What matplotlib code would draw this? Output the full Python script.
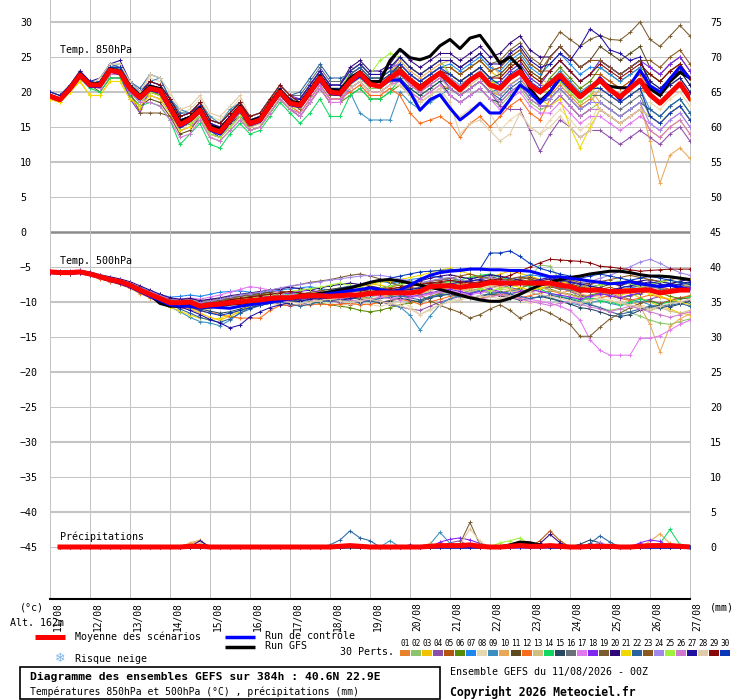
import numpy as np
import matplotlib
matplotlib.use("Agg")
import matplotlib.pyplot as plt
import matplotlib.patches as patches
from matplotlib.transforms import offset_copy

plt.rcParams['font.family'] = ['DejaVu Sans Mono', 'DejaVu Sans']

# pas de 6h sur 384h
hours = np.arange(0, 385, 6)
days = ['11/08', '12/08', '13/08', '14/08', '15/08', '16/08', '17/08', '18/08', '19/08',
        '20/08', '21/08', '22/08', '23/08', '24/08', '25/08', '26/08', '27/08']

pert_colors = ['#e8822a', '#8cc46a', '#f2c200', '#8c4fa8', '#b5540c', '#5a8a0a', '#1e88f0',
               '#e8d8b0', '#3b8fc0', '#e8a858', '#5c4a1e', '#f86c1c', '#d0c080', '#10d860',
               '#284860', '#687078', '#e078f0', '#8028f0', '#7a5c30', '#30087a', '#f0d800',
               '#2a64a0', '#8c5820', '#a088e8', '#a0f040', '#d078d0', '#2010a0', '#e0cca8',
               '#880808', '#0838b8']

# ---- Temp 850 hPa ----
t850_mean = [19.4, 18.9, 20.5, 22.4, 21.0, 21.0, 23.1, 22.8, 20.5, 19.2, 20.5, 20.2, 17.8, 15.3, 16.1,
             17.4, 14.8, 14.3, 16.0, 17.7, 15.5, 16.0, 18.1, 20.0, 18.4, 18.1, 20.0, 22.0, 20.0, 19.8,
             21.5, 22.7, 21.1, 20.8, 22.0, 22.9, 21.7, 20.5, 21.7, 22.7, 21.5, 20.3, 21.7, 22.6, 21.0,
             20.5, 22.0, 22.9, 21.0, 20.0, 21.2, 22.4, 20.8, 19.3, 20.5, 21.7, 20.3, 19.3, 20.5, 21.7,
             19.6, 18.4, 19.8, 21.2, 19.1]
t850_control = [19.3, 18.8, 20.3, 22.2, 20.8, 20.8, 23.0, 22.6, 20.3, 19.0, 20.3, 20.0, 17.5, 15.0, 15.9,
                17.2, 14.6, 14.0, 15.8, 17.5, 15.3, 15.8, 17.9, 19.8, 18.2, 17.9, 19.8, 21.7, 19.8, 19.6,
                21.3, 22.3, 21.0, 20.8, 21.7, 21.7, 20.0, 17.4, 18.9, 19.6, 17.7, 16.0, 17.1, 18.4, 17.0,
                17.0, 18.9, 21.0, 20.0, 18.4, 20.0, 22.0, 20.5, 19.3, 20.3, 22.0, 20.5, 18.9, 21.0, 23.1,
                20.9, 20.0, 21.9, 23.6, 21.9]
t850_gfs = [19.5, 19.0, 20.6, 22.6, 21.2, 21.2, 23.3, 23.0, 20.8, 19.5, 20.8, 20.5, 18.2, 15.8, 16.4,
            17.7, 15.2, 14.7, 16.3, 18.0, 15.8, 16.3, 18.4, 20.3, 18.7, 18.4, 20.3, 22.3, 20.4, 20.2,
            22.0, 22.9, 21.5, 21.5, 24.5, 26.1, 24.9, 24.6, 25.1, 26.6, 27.5, 26.2, 27.7, 28.1, 26.2,
            24.1, 25.0, 23.5, 20.5, 18.7, 20.0, 22.0, 21.0, 19.5, 20.5, 21.5, 20.8, 20.6, 20.6, 21.5,
            20.5, 19.5, 21.5, 22.8, 22.0]
t850_perts = [
    [19.5, 19, 20.5, 22.5, 21, 20.5, 22.5, 22.5, 20, 18.5, 20, 19.5, 17.5, 15, 15.5, 17, 14.5, 14, 15.5, 17,
     15.5, 16, 18, 20, 18.5, 18, 20, 22, 20, 20, 20.5, 21.5, 20, 20, 21, 21.5, 20, 19, 20, 21,
     20.5, 19.5, 20.5, 21.5, 20, 19.5, 21, 22, 20, 19, 19.5, 21, 19.5, 18, 19, 22.5, 21.5, 20.5, 21.5, 22.5,
     20.5, 19.5, 21, 22, 20],
    [19.5, 19, 20.5, 22, 21, 20.5, 22.5, 22.5, 20, 18.5, 19.5, 19, 17, 14.5, 15, 16, 13.5, 13, 14.5, 16,
     14.5, 15, 17, 19, 17.5, 17, 19, 21, 19, 19, 21, 22, 20.5, 20.5, 21.5, 21.5, 20, 19, 20, 21,
     19.5, 18.5, 19.5, 20.5, 19, 18, 19.5, 20.5, 18.5, 17.5, 18, 19.5, 18, 16.5, 17.5, 18.5, 17.5, 16.5, 17.5, 18.5,
     17.5, 16.5, 18, 19, 17],
    [19, 18.5, 20, 21.5, 19.5, 19.5, 21.5, 21.5, 19, 17.5, 20, 19.5, 17.5, 15, 15.5, 17.5, 15, 14.5, 16, 17.5,
     16, 16.5, 18.5, 20.5, 19, 18.5, 20.5, 22.5, 20.5, 20.5, 22.5, 23.5, 22, 22, 23, 24, 22.5, 21.5, 22.5, 23.5,
     23.5, 22.5, 23.5, 24.5, 23, 22, 23.5, 24.5, 22.5, 21.5, 20, 21.5, 20, 18.5, 19.5, 17.5, 16.5, 15.5, 16.5, 17.5,
     14.5, 13.5, 15, 16, 14],
    [19.5, 19, 20.5, 22.5, 21, 21.5, 23.5, 23.5, 21, 19.5, 20.5, 20, 18, 15.5, 16, 17, 14.5, 14, 15.5, 17,
     15.5, 16, 18, 20, 18.5, 18.5, 20.5, 22.5, 20.5, 20.5, 22.5, 23.5, 22, 22, 23, 23, 21.5, 20.5, 21.5, 22.5,
     20.5, 19.5, 20.5, 21.5, 20, 18, 17.5, 17.5, 14.5, 11.5, 14, 16, 15, 13.5, 14.5, 14.5, 13.5, 12.5, 13.5, 14.5,
     13.5, 12.5, 14, 15, 13],
    [20, 19.5, 21, 23, 21.5, 21.5, 23.5, 23.5, 21, 19.5, 21, 20.5, 18.5, 16, 16.5, 18.5, 16, 15.5, 17, 18.5,
     16, 16.5, 18.5, 20.5, 19, 18, 20, 22, 20, 20, 22, 23, 21.5, 21.5, 22.5, 24, 22.5, 21.5, 22.5, 23.5,
     23.5, 22.5, 23.5, 24.5, 23, 23.5, 25, 26, 24, 23, 23, 24.5, 23, 21.5, 22.5, 22.5, 21.5, 20.5, 21.5, 22.5,
     22.5, 21.5, 23, 24, 22],
    [19.5, 19, 20.5, 22.5, 21, 21, 23, 23, 20.5, 19, 21, 20.5, 18.5, 16, 16.5, 17.5, 15, 14.5, 16, 17.5,
     14.5, 15, 17, 19, 17.5, 16.5, 18.5, 20.5, 18.5, 18.5, 19.5, 20.5, 19, 19, 20, 21, 19.5, 18.5, 19.5, 20.5,
     20.5, 19.5, 20.5, 21.5, 20, 20.5, 22, 23, 21, 20, 22, 23.5, 22, 20.5, 21.5, 23.5, 22.5, 21.5, 22.5, 23.5,
     22.5, 21.5, 23, 24, 22],
    [19.5, 19, 20.5, 22.5, 21, 21.5, 23.5, 23.5, 21, 19.5, 21.5, 21, 19, 16.5, 17, 18.5, 16, 15.5, 17, 18.5,
     16, 16.5, 18.5, 20.5, 19, 18.5, 20.5, 22.5, 20.5, 20.5, 21.5, 22.5, 21, 21, 22, 24, 22.5, 21.5, 22.5, 23.5,
     24, 23, 24, 25, 23.5, 23, 24.5, 25.5, 23.5, 22.5, 24, 25.5, 24, 22.5, 23.5, 23.5, 22.5, 21.5, 22.5, 23.5,
     20.5, 19.5, 21, 22, 20],
    [19.5, 19, 20.5, 22.5, 21, 22, 24, 24, 21.5, 20, 22, 21.5, 19.5, 17, 17.5, 19, 16.5, 16, 17.5, 19,
     15.5, 16, 18, 20, 18.5, 17, 19, 21, 19, 19, 20, 21, 19.5, 19.5, 20.5, 21, 19.5, 18.5, 19.5, 20.5,
     17.5, 16.5, 17.5, 18.5, 17, 14.5, 16, 17, 15, 14, 16, 17.5, 16, 14.5, 15.5, 18.5, 17.5, 16.5, 17.5, 18.5,
     18.5, 17.5, 19, 20, 18],
    [20, 19.5, 21, 23, 21.5, 21.5, 23.5, 24, 21, 20, 21.5, 22, 19, 17.5, 17, 18.5, 16.5, 15.5, 17.5, 18.5,
     16.5, 17, 19, 21, 19.5, 18.5, 20.5, 22.5, 20.5, 20.5, 20, 17, 16, 16, 16, 20, 18.5, 17.5, 18.5, 19.5,
     20.5, 19.5, 20.5, 21.5, 20, 20.5, 22, 23, 21, 20, 21.5, 23, 21.5, 20, 21, 20.5, 19.5, 18.5, 19.5, 20.5,
     17.5, 16.5, 18, 19, 17],
    [19.5, 19, 20.5, 23, 21, 20.5, 22.5, 22.5, 20, 18.5, 20.5, 20, 18, 15.5, 16, 18, 15.5, 15, 16.5, 18,
     15.5, 16, 18, 20, 18.5, 18.5, 20.5, 22.5, 20.5, 20.5, 22, 23, 21.5, 21.5, 22.5, 24.5, 23, 22, 23, 24,
     24.5, 23.5, 24.5, 25.5, 24, 22.5, 24, 25, 23, 22, 21, 22.5, 21, 19.5, 20.5, 18.5, 17.5, 16.5, 17.5, 18.5,
     13, 7, 11, 12, 10.5],
    [19.5, 19, 20.5, 22.5, 21, 20, 22, 22, 19.5, 18, 19, 18.5, 16.5, 14, 14.5, 16.5, 14, 13.5, 15, 16.5,
     14.5, 15, 17, 19, 17.5, 16.5, 18.5, 20.5, 18.5, 18.5, 20.5, 21.5, 20, 20, 21, 22.5, 21, 20, 21, 22,
     22.5, 21.5, 22.5, 23.5, 22, 22.5, 24, 25, 23, 22, 25, 26.5, 25, 23.5, 24.5, 26.5, 25.5, 24.5, 25.5, 26.5,
     23.5, 22.5, 24, 25, 23],
    [19.5, 19, 20.5, 22.5, 21, 21, 23, 23, 20.5, 19, 20, 19.5, 17.5, 15, 15.5, 16.5, 14, 13.5, 15, 16.5,
     15, 15.5, 17.5, 19.5, 18, 17, 19, 21, 19, 19, 20, 21, 19.5, 19.5, 20.5, 19.5, 17, 15.5, 16, 16.5,
     15.5, 13.5, 15.5, 16.5, 15, 16.5, 18, 19, 17, 16, 19, 20.5, 19, 17.5, 18.5, 20.5, 19.5, 18.5, 19.5, 20.5,
     19.5, 18.5, 20, 21, 19],
    [19.5, 19, 20.5, 22.5, 21, 21, 23.5, 22.5, 21, 19.5, 21, 20.5, 18.5, 16, 16.5, 17.5, 15, 14.5, 16, 17.5,
     15, 15.5, 17.5, 19.5, 18, 18, 20, 22, 20, 20, 22, 23, 21.5, 21.5, 22.5, 23, 21.5, 20.5, 21.5, 22.5,
     21, 20, 21, 22, 20.5, 19.5, 21, 22, 20, 19, 19, 20.5, 19, 17.5, 18.5, 20.5, 19.5, 18.5, 19.5, 20.5,
     20.5, 19.5, 21, 22, 20],
    [19.5, 19, 20.5, 22, 20.5, 20, 22, 22, 19.5, 18, 18.5, 18, 16, 12.5, 14, 15.5, 12.5, 12, 14, 15.5,
     14, 14.5, 16.5, 18.5, 17, 15.5, 17, 19, 16.5, 16.5, 19.5, 20.5, 19, 19, 20, 22, 20.5, 19.5, 20.5, 21.5,
     22, 21, 22, 23, 21.5, 21.5, 23, 24, 22, 21, 23, 24.5, 23, 21.5, 22.5, 24.5, 23.5, 22.5, 23.5, 24.5,
     21.5, 20.5, 22, 23, 21],
    [19.5, 19, 20.5, 22.5, 21, 21.5, 23, 23.5, 21, 19.5, 20.5, 19.5, 17.5, 15, 15.5, 16.5, 14.5, 13.5, 15.5, 16.5,
     15.5, 16, 18, 20, 18.5, 18.5, 20.5, 22.5, 20.5, 20.5, 21.5, 22.5, 21, 21, 22, 22, 20.5, 19.5, 20.5, 21.5,
     19.5, 18.5, 19.5, 20.5, 19, 18.5, 20, 21, 19, 18, 18, 19.5, 18, 16.5, 17.5, 17.5, 16.5, 15.5, 16.5, 17.5,
     16.5, 15.5, 17, 18, 16],
    [19.5, 19, 20.5, 22.5, 21, 21, 23, 23, 20.5, 19, 21, 20.5, 18.5, 16, 16.5, 18, 15.5, 15, 16.5, 18,
     16.5, 17, 19, 21, 19.5, 19.5, 21.5, 23.5, 21.5, 21.5, 22.5, 23.5, 22, 22, 23, 25, 23.5, 22.5, 23.5, 24.5,
     22.5, 21.5, 22.5, 23.5, 22, 20.5, 22, 23, 21, 20, 20, 21.5, 20, 18.5, 19.5, 19.5, 18.5, 17.5, 18.5, 19.5,
     16.5, 15.5, 17, 18, 16],
    [19.5, 19, 20.5, 22.5, 21, 20.5, 22.5, 22.5, 20, 18.5, 19.5, 19, 17, 14.5, 15, 16.5, 14, 13.5, 15, 16.5,
     14.5, 15, 17, 19, 17.5, 16.5, 18.5, 20.5, 18.5, 18.5, 20.5, 21.5, 20, 20, 21, 21.5, 20, 19, 20, 21,
     19.5, 18.5, 19.5, 20.5, 19, 17.5, 19, 20, 18, 17, 17, 18.5, 17, 15.5, 16.5, 16.5, 15.5, 14.5, 15.5, 16.5,
     15.5, 14.5, 16, 17, 15],
    [19.5, 19, 20.5, 22.5, 21, 20.5, 22.5, 22.5, 19, 17, 20.5, 20, 18, 15.5, 16, 18, 15.5, 15, 16.5, 18,
     16.5, 17, 19, 21, 19.5, 19, 21, 23, 21, 21, 23, 24, 22.5, 22.5, 23.5, 24, 22.5, 21.5, 22.5, 23.5,
     21.5, 20.5, 21.5, 22.5, 21, 21.5, 23, 24, 22, 21, 23, 24.5, 23, 21.5, 22.5, 24.5, 23.5, 22.5, 23.5, 24.5,
     23.5, 22.5, 24, 25, 23],
    [19.5, 19, 20.5, 22.5, 21, 21.5, 23.5, 23.5, 20, 17, 17, 17, 16.5, 15, 15.5, 17.5, 15, 14.5, 16, 17.5,
     16, 16.5, 18.5, 20.5, 19, 19, 21, 23, 21, 21, 23, 24, 22.5, 22.5, 23.5, 25, 23.5, 22.5, 23.5, 24.5,
     24.5, 23.5, 24.5, 25.5, 24, 24.5, 26, 27, 25, 24, 26.5, 28.6, 27.5, 26.5, 27.5, 28.1, 27.5, 27.4, 28.5, 30,
     27.5, 26.5, 28, 29.5, 28],
    [19.5, 19, 20.5, 22.5, 21, 21.5, 23.5, 23.5, 21, 19.5, 21, 20.5, 18.5, 16, 16.5, 17.5, 15, 14.5, 16, 17.5,
     16, 16.5, 18.5, 20.5, 19, 19, 21, 23, 21, 21, 23.5, 24.5, 23, 23, 24, 26, 24.5, 23.5, 24.5, 25.5,
     25.5, 24.5, 25.5, 26.5, 25, 25.5, 27, 28, 26, 25, 25, 26.5, 25, 23.5, 24.5, 24.5, 23.5, 22.5, 23.5, 24.5,
     21.5, 20.5, 22, 23, 21],
    [19, 18.5, 20, 21.5, 19.5, 19.5, 21.5, 21.5, 19, 18, 19.5, 19, 17, 14.5, 15, 17.5, 15, 14.5, 16, 17.5,
     16, 16.5, 18.5, 20.5, 19, 18.5, 20.5, 22.5, 20.5, 20.5, 21.5, 22.5, 21, 21, 22, 23.5, 22, 21, 22, 23,
     22.5, 21.5, 22.5, 23.5, 22, 19.5, 21, 22, 20, 19, 18, 19, 15, 12, 15, 17.5, 16.5, 15.5, 16.5, 17.5,
     16.5, 15.5, 17, 18, 16],
    [19.5, 19, 20.5, 22.5, 21, 21.5, 24, 23.5, 21.5, 20.5, 22.5, 22, 19, 17, 17, 18.5, 16, 15.5, 17, 18.5,
     16.5, 17, 19, 21, 19.5, 20, 22, 24, 22, 22, 22.5, 23.5, 22, 22, 23, 23, 21.5, 20.5, 21.5, 22.5,
     20.5, 19.5, 20.5, 21.5, 20, 19, 20.5, 21.5, 19.5, 18.5, 19, 20.5, 19, 17.5, 18.5, 18.5, 17.5, 16.5, 17.5, 18.5,
     17.5, 16.5, 18, 19, 17],
    [19.5, 19, 20.5, 22.5, 21, 21, 23, 23, 20.5, 19, 20, 19.5, 17.5, 15, 15.5, 17.5, 15, 14.5, 16, 17.5,
     15.5, 16, 18, 20, 18.5, 17.5, 19.5, 21.5, 19.5, 19.5, 21.5, 22.5, 21, 21, 22, 24, 22.5, 21.5, 22.5, 23.5,
     23.5, 22.5, 23.5, 24.5, 23, 23.5, 25, 26, 24, 23, 25, 26.5, 25, 23.5, 24.5, 24.5, 23.5, 22.5, 23.5, 24.5,
     24.5, 23.5, 25, 26, 24],
    [19.5, 19, 20.5, 22.5, 21, 21, 23, 23, 20.5, 19, 20.5, 20, 18, 15.5, 16, 18, 15.5, 15, 16.5, 18,
     16, 16.5, 18.5, 20.5, 19, 19, 21, 23, 21, 21, 23, 24, 22.5, 22.5, 23.5, 24, 22.5, 21.5, 22.5, 23.5,
     22, 21, 22, 23, 21.5, 19.5, 21, 22, 20, 19, 19, 20.5, 19, 17.5, 18.5, 18.5, 17.5, 16.5, 17.5, 18.5,
     15.5, 14.5, 16, 17, 15],
    [19.5, 19, 20.5, 22.5, 21, 20.5, 22.5, 22.5, 20, 18.5, 20, 19.5, 17.5, 15, 15.5, 16.5, 14, 13.5, 15, 16.5,
     14.5, 15, 17, 19, 17.5, 18, 20, 22, 20, 20, 23, 24, 22.5, 24.5, 25.5, 25, 23.5, 22.5, 23.5, 24.5,
     22.5, 21.5, 22.5, 23.5, 22, 20.5, 22, 23, 21, 20, 20, 21.5, 20, 18.5, 19.5, 21.5, 20.5, 19.5, 20.5, 21.5,
     20.5, 19.5, 21, 22, 20],
    [19.5, 19, 20.5, 22.5, 21, 20.5, 22.5, 22.5, 20, 18.5, 18.5, 18, 16, 13.5, 14, 16, 13.5, 13, 14.5, 16,
     14.5, 15, 17, 19, 17.5, 17, 19, 21, 19, 19, 20.5, 21.5, 20, 20, 21, 22.5, 21, 20, 21, 22,
     20.5, 19.5, 20.5, 21.5, 20, 18.5, 20, 21, 19, 18, 18, 19.5, 18, 16.5, 17.5, 17.5, 16.5, 15.5, 16.5, 17.5,
     14.5, 13.5, 15, 16, 14],
    [20, 19.5, 21, 23, 21.5, 22, 24, 24.5, 21.5, 20, 21.5, 21, 19, 16.5, 17, 18, 15.5, 15, 16.5, 18,
     16, 16.5, 18.5, 20.5, 19, 19, 21, 23, 21, 21, 23, 24, 22.5, 22.5, 23.5, 25, 23.5, 22.5, 23.5, 24.5,
     24.5, 23.5, 24.5, 25.5, 24, 24, 25.5, 26.5, 24.5, 23.5, 24, 25.5, 24.5, 26.5, 29, 28, 26, 25.5, 24.5, 25,
     20.5, 19.5, 21, 22, 20],
    [19.5, 19, 20.5, 22.5, 21, 22, 24, 24, 21.5, 20, 22.5, 22, 20, 17.5, 18, 19.5, 17, 16.5, 18, 19.5,
     16.5, 17, 19, 21, 19.5, 18, 20, 22, 20, 20, 20.5, 21.5, 20, 20, 21, 21, 19.5, 18.5, 19.5, 20.5,
     18.5, 14, 15.5, 16, 14.5, 13, 14, 17, 15, 14, 15, 16.5, 15, 13.5, 14.5, 17.5, 16.5, 15.5, 16.5, 17.5,
     16.5, 15.5, 17, 18, 16],
    [19.5, 19, 20.5, 22.5, 21, 21.5, 23.5, 23.5, 21, 19.5, 21.5, 21, 19, 16.5, 17, 18.5, 16, 15.5, 17, 18.5,
     16.5, 17, 19, 21, 19.5, 18.5, 20.5, 22.5, 20.5, 20.5, 21.5, 22.5, 21, 21, 22, 23.5, 22, 21, 22, 23,
     22.5, 21.5, 22.5, 23.5, 22, 22, 23.5, 24.5, 22.5, 21.5, 23, 24.5, 23, 21.5, 22.5, 24, 23, 22, 23, 24,
     22.5, 21.5, 23, 24, 22],
    [19.5, 19, 20.5, 22.5, 21, 21.5, 23.5, 23.5, 21, 19.5, 21, 20.5, 18.5, 16, 16.5, 17.5, 15, 14.5, 16, 17.5,
     15.5, 16, 18, 20, 18.5, 18.5, 20.5, 22.5, 20.5, 20.5, 22, 23, 21.5, 21.5, 22.5, 24, 22.5, 21.5, 22.5, 23.5,
     22.5, 21.5, 22.5, 23.5, 22, 21, 22.5, 23.5, 21.5, 20.5, 21, 22.5, 21, 19.5, 20.5, 20.5, 19.5, 18.5, 19.5, 20.5,
     16.5, 15.5, 17, 18, 16],
]

# ---- Temp 500 hPa ----
t500_mean = [-5.7, -5.8, -5.8, -5.7, -6.0, -6.4, -6.8, -7.1, -7.6, -8.3, -8.9, -9.5, -10.1, -10.1, -10.0,
             -10.6, -10.4, -10.3, -10.1, -10.0, -9.8, -9.7, -9.5, -9.4, -9.4, -9.2, -9.1, -9.1, -9.2, -9.1,
             -9.0, -9.0, -8.8, -8.7, -8.7, -8.7, -8.7, -8.5, -7.8, -7.7, -7.7, -7.9, -7.7, -7.6, -7.2,
             -7.3, -7.3, -7.3, -7.3, -7.3, -7.3, -7.6, -7.8, -8.3, -8.3, -8.3, -8.5, -8.5, -8.4, -8.3,
             -8.3, -8.7, -8.5, -8.3, -8.3]
t500_control = [-5.8, -5.9, -5.9, -5.8, -6.1, -6.5, -6.9, -7.3, -7.8, -8.5, -9.2, -9.8, -10.4, -10.6, -10.6,
                -10.8, -10.7, -10.8, -10.9, -10.6, -10.4, -10.2, -10.0, -9.8, -9.6, -9.4, -9.2, -9.0, -8.8, -8.6,
                -8.4, -8.2, -8.0, -8.2, -8.5, -8.3, -7.6, -6.8, -6.2, -5.8, -5.6, -5.5, -5.3, -5.3, -5.4,
                -5.4, -5.5, -5.5, -5.6, -6.0, -6.4, -6.4, -6.6, -6.8, -7.0, -7.2, -7.4, -7.3, -7.1, -7.4,
                -7.6, -7.8, -7.6, -7.9, -8.2]
t500_gfs = [-5.7, -5.8, -5.8, -5.7, -6.0, -6.4, -6.9, -7.2, -7.7, -8.4, -9.0, -10.2, -10.6, -10.6, -10.5,
            -10.8, -10.7, -10.5, -10.3, -10.2, -10.0, -9.8, -9.6, -9.5, -9.4, -9.2, -9.0, -8.8, -8.6, -8.3,
            -8.0, -7.6, -7.2, -6.9, -6.8, -7.0, -7.3, -7.6, -7.9, -8.2, -8.6, -9.0, -9.4, -9.7, -9.9,
            -9.9, -9.5, -8.9, -8.2, -7.6, -7.2, -6.8, -6.5, -6.3, -6.0, -5.8, -5.6, -5.6, -5.8, -6.1,
            -6.3, -6.3, -6.4, -6.6, -6.8]
t500_perts = [
    [-5.6, -5.9, -6.0, -5.8, -6.2, -6.6, -7.0, -7.4, -8.0, -8.8, -9.4, -10.0, -10.6, -10.8, -10.5,
     -10.9, -10.6, -10.2, -9.8, -9.6, -9.4, -9.5, -9.3, -9.0, -9.2, -9.4, -9.0, -8.7, -8.9, -9.3,
     -9.1, -8.6, -8.4, -8.8, -9.0, -8.6, -8.2, -8.0, -7.5, -7.2, -7.4, -7.8, -7.0, -6.8, -6.5,
     -6.9, -7.2, -6.6, -6.3, -6.8, -7.4, -7.0, -6.8, -7.6, -8.0, -7.5, -7.2, -7.8, -8.4, -8.0,
     -7.6, -7.9, -8.5, -8.0, -7.8],
    [-5.8, -5.8, -5.9, -5.9, -6.1, -6.5, -6.9, -7.3, -7.7, -8.3, -8.8, -9.4, -10.0, -10.3, -10.4,
     -10.8, -10.9, -10.6, -10.2, -10.3, -10.0, -9.9, -9.6, -9.6, -9.8, -9.5, -9.4, -9.6, -9.3, -9.1,
     -9.2, -9.5, -9.3, -9.0, -9.4, -9.6, -9.2, -9.0, -8.6, -8.8, -9.0, -9.3, -8.7, -8.4, -8.8,
     -9.2, -9.0, -8.5, -6.5, -4.7, -4.9, -6.8, -8.2, -9.6, -10.3, -10.8, -11.2, -10.9, -11.5, -12.0,
     -12.6, -13.0, -13.2, -12.8, -12.4],
    [-5.7, -5.7, -5.8, -5.6, -5.9, -6.3, -6.7, -7.0, -7.5, -8.2, -8.9, -9.6, -10.4, -10.6, -11.0,
     -11.6, -12.2, -12.6, -12.0, -11.4, -10.8, -10.5, -10.2, -10.0, -9.6, -9.3, -9.0, -8.6, -8.4, -8.2,
     -8.0, -7.8, -7.4, -7.6, -7.9, -7.5, -7.2, -7.6, -7.0, -6.7, -6.5, -6.9, -6.4, -6.2, -6.6,
     -6.0, -5.6, -5.9, -6.3, -6.8, -7.2, -7.0, -7.4, -7.9, -8.3, -8.0, -8.6, -9.0, -8.7, -9.4,
     -10.0, -10.6, -11.0, -11.6, -11.8],
    [-5.8, -5.9, -5.9, -5.8, -6.0, -6.4, -6.8, -7.2, -7.8, -8.5, -9.2, -9.8, -10.2, -10.4, -10.2,
     -10.6, -10.8, -10.7, -10.4, -10.0, -9.7, -9.8, -10.0, -10.3, -10.6, -10.4, -10.0, -9.7, -9.8, -10.1,
     -10.4, -10.0, -9.6, -9.9, -10.4, -10.7, -11.0, -11.2, -10.6, -10.0, -9.6, -9.2, -8.8, -8.4, -8.0,
     -7.6, -7.9, -8.3, -8.6, -8.2, -7.8, -8.0, -8.5, -9.0, -9.3, -9.0, -8.8, -9.3, -9.6, -10.0,
     -9.6, -9.2, -9.7, -10.1, -9.8],
    [-5.6, -5.7, -5.7, -5.6, -5.8, -6.2, -6.6, -6.9, -7.3, -8.0, -8.6, -9.2, -9.8, -9.9, -9.7,
     -10.1, -9.8, -9.6, -9.3, -9.0, -8.8, -8.9, -8.6, -8.4, -8.7, -8.9, -8.6, -8.4, -8.6, -8.3,
     -8.1, -8.4, -8.2, -8.0, -7.8, -7.6, -7.9, -8.2, -7.6, -7.3, -7.0, -7.3, -7.6, -7.2, -6.9,
     -7.2, -7.5, -7.1, -6.8, -7.3, -7.8, -8.2, -7.9, -8.4, -8.6, -8.2, -7.9, -8.3, -8.0, -7.6,
     -7.3, -7.8, -8.2, -7.7, -7.5],
    [-5.7, -5.8, -5.8, -5.8, -6.1, -6.5, -6.9, -7.2, -7.6, -8.2, -8.7, -9.3, -9.9, -10.0, -9.8,
     -10.3, -10.0, -9.8, -9.6, -9.4, -9.2, -9.0, -8.8, -9.0, -9.3, -9.6, -9.9, -10.2, -10.4, -10.6,
     -10.8, -11.2, -11.4, -11.2, -10.8, -10.4, -10.1, -9.8, -9.2, -8.8, -8.5, -8.8, -8.4, -8.1, -8.4,
     -8.7, -8.4, -8.0, -7.6, -7.9, -8.2, -8.6, -8.9, -9.3, -9.0, -8.7, -9.1, -9.5, -9.1, -8.8,
     -8.4, -8.7, -9.2, -9.5, -9.1],
    [-5.7, -5.8, -5.7, -5.6, -5.9, -6.3, -6.6, -6.9, -7.3, -7.9, -8.4, -8.9, -9.3, -9.2, -9.0,
     -9.2, -8.9, -8.6, -8.5, -8.4, -8.6, -8.8, -8.5, -8.3, -8.1, -8.0, -7.8, -8.1, -8.3, -8.0,
     -7.7, -7.6, -7.2, -7.0, -7.3, -7.1, -6.8, -6.6, -6.3, -6.5, -6.9, -7.2, -6.8, -6.4, -6.2,
     -6.4, -6.7, -6.5, -6.1, -6.3, -6.6, -6.9, -7.2, -7.5, -7.8, -7.6, -7.3, -7.6, -8.0, -7.7,
     -7.4, -7.0, -7.3, -7.6, -7.2],
    [-5.8, -5.9, -5.9, -5.8, -6.0, -6.5, -6.9, -7.3, -7.8, -8.5, -9.2, -9.8, -10.4, -10.6, -10.8,
     -11.2, -11.0, -10.8, -10.5, -10.3, -10.1, -10.0, -10.2, -10.4, -10.2, -9.9, -9.7, -9.9, -10.2, -10.5,
     -10.3, -10.1, -10.4, -10.6, -10.3, -10.0, -10.6, -11.8, -11.2, -10.4, -9.8, -9.5, -9.2, -9.6, -10.0,
     -9.7, -9.4, -9.8, -10.1, -9.8, -9.4, -9.0, -9.3, -9.6, -9.4, -9.1, -9.4, -9.8, -10.1, -10.4,
     -10.8, -11.0, -10.6, -10.2, -10.0],
    [-5.7, -5.8, -5.8, -5.8, -6.1, -6.5, -6.9, -7.3, -7.9, -8.6, -9.3, -10.0, -10.7, -11.4, -12.2,
     -12.8, -13.0, -13.4, -12.6, -11.6, -10.8, -10.2, -9.9, -9.6, -9.8, -10.0, -9.7, -9.4, -9.6, -9.9,
     -9.6, -9.3, -9.5, -9.8, -10.2, -10.7, -11.9, -14.0, -12.0, -10.4, -9.5, -9.0, -8.7, -8.3, -8.6,
     -8.9, -8.5, -8.2, -8.6, -9.0, -9.4, -9.8, -10.2, -10.4, -10.1, -9.8, -10.2, -10.5, -10.2, -9.9,
     -10.4, -10.7, -10.3, -9.9, -10.2],
    [-5.6, -5.7, -5.7, -5.7, -5.9, -6.3, -6.7, -7.1, -7.6, -8.3, -9.0, -9.6, -10.2, -10.3, -10.4,
     -10.9, -10.7, -10.5, -10.2, -10.1, -9.9, -9.7, -9.5, -9.7, -9.9, -9.6, -9.4, -9.2, -9.5, -9.2,
     -9.0, -9.3, -9.6, -9.4, -9.1, -8.8, -9.0, -8.6, -8.3, -8.1, -8.0, -8.4, -8.1, -7.8, -7.6,
     -7.8, -8.1, -8.4, -8.2, -7.9, -8.3, -8.7, -8.4, -8.8, -9.2, -9.0, -8.6, -9.2, -9.8, -10.6,
     -13.2, -17.1, -13.5, -12.4, -11.7],
    [-5.7, -5.7, -5.8, -5.7, -5.9, -6.3, -6.7, -7.0, -7.4, -8.1, -8.7, -9.3, -9.8, -9.9, -9.8,
     -10.2, -10.0, -9.7, -9.4, -9.2, -9.0, -8.8, -8.6, -8.5, -8.7, -8.9, -8.7, -8.4, -8.2, -8.0,
     -7.8, -7.5, -7.7, -8.0, -8.2, -7.9, -7.6, -7.3, -7.0, -6.8, -6.6, -6.9, -7.1, -6.7, -6.4,
     -6.7, -7.0, -6.8, -6.5, -6.9, -7.3, -7.6, -7.4, -7.8, -8.1, -7.9, -7.5, -7.2, -6.9, -7.2,
     -7.5, -7.8, -7.4, -7.1, -7.4],
    [-5.8, -5.9, -6.0, -5.9, -6.2, -6.7, -7.1, -7.5, -8.0, -8.7, -9.4, -10.0, -10.6, -10.9, -10.8,
     -11.3, -11.5, -11.8, -12.1, -12.3, -12.3, -12.3, -11.2, -10.5, -10.4, -10.5, -10.4, -10.3, -10.4, -10.3,
     -10.2, -10.4, -10.3, -10.1, -9.8, -9.6, -9.9, -10.3, -10.0, -9.6, -9.2, -8.9, -9.2, -9.5, -9.1,
     -8.8, -9.0, -9.4, -9.1, -8.7, -8.4, -8.7, -9.0, -9.4, -9.7, -9.4, -9.1, -9.5, -9.8, -9.4,
     -9.0, -9.3, -9.7, -9.4, -9.1],
    [-5.7, -5.8, -5.8, -5.7, -6.0, -6.4, -6.8, -7.1, -7.6, -8.3, -8.9, -9.5, -10.0, -10.2, -10.1,
     -10.6, -10.3, -10.1, -9.9, -9.8, -9.6, -9.4, -9.3, -9.4, -9.6, -9.3, -9.1, -8.9, -9.1, -9.3,
     -9.1, -8.8, -8.6, -8.8, -9.0, -8.8, -8.6, -8.9, -8.4, -8.0, -7.8, -8.2, -8.5, -8.1, -7.8,
     -8.1, -8.4, -8.7, -8.4, -8.0, -8.3, -8.6, -9.0, -9.4, -9.7, -9.5, -9.8, -10.2, -10.6, -10.9,
     -11.2, -10.8, -11.3, -11.6, -11.2],
    [-5.7, -5.8, -5.9, -5.8, -6.0, -6.4, -6.8, -7.2, -7.7, -8.4, -9.0, -9.6, -10.2, -10.5, -10.4,
     -10.8, -10.6, -10.4, -10.2, -10.0, -9.8, -9.6, -9.3, -9.1, -8.9, -8.7, -8.9, -9.2, -9.0, -8.7,
     -8.5, -8.3, -8.5, -8.8, -9.0, -8.7, -8.4, -8.1, -7.6, -7.3, -7.0, -6.8, -6.5, -6.2, -6.0,
     -6.4, -6.9, -7.3, -7.8, -8.2, -8.7, -9.2, -9.5, -9.8, -9.4, -9.8, -10.0, -10.4, -10.0, -9.6,
     -9.9, -10.3, -10.0, -9.6, -9.3],
    [-5.7, -5.8, -5.8, -5.7, -6.0, -6.4, -6.8, -7.2, -7.7, -8.4, -9.0, -9.6, -10.2, -10.4, -10.6,
     -11.0, -11.3, -11.6, -11.4, -11.0, -10.6, -10.3, -10.0, -9.8, -9.9, -9.7, -9.5, -9.7, -9.9, -9.6,
     -9.4, -9.6, -9.9, -10.1, -9.8, -9.5, -9.7, -10.0, -9.4, -9.1, -8.9, -9.2, -9.5, -9.2, -8.9,
     -9.1, -9.4, -9.7, -9.5, -9.2, -9.5, -9.9, -10.3, -10.8, -11.0, -11.4, -11.9, -12.1, -11.8, -11.2,
     -10.8, -10.4, -10.7, -10.3, -9.9],
    [-5.7, -5.7, -5.7, -5.6, -5.9, -6.3, -6.7, -7.0, -7.5, -8.1, -8.6, -9.1, -9.6, -9.7, -9.5,
     -9.9, -9.7, -9.5, -9.3, -9.1, -9.0, -9.2, -9.4, -9.3, -9.1, -8.9, -8.7, -8.8, -9.0, -8.8,
     -8.6, -8.4, -8.2, -8.4, -8.6, -8.4, -8.1, -7.9, -7.4, -7.2, -7.4, -7.7, -7.5, -7.2, -7.0,
     -7.2, -7.5, -7.3, -7.0, -7.4, -7.7, -8.0, -8.3, -8.6, -8.4, -8.1, -8.4, -8.7, -8.4, -8.1,
     -7.8, -8.1, -8.4, -8.0, -7.7],
    [-5.7, -5.7, -5.7, -5.6, -5.8, -6.2, -6.6, -6.9, -7.4, -8.0, -8.5, -9.0, -9.5, -9.6, -9.4,
     -9.6, -9.3, -9.0, -8.6, -8.2, -7.8, -8.0, -8.3, -8.6, -8.8, -9.0, -8.8, -8.6, -8.8, -9.1,
     -9.3, -9.1, -8.9, -9.2, -9.5, -9.3, -9.0, -9.3, -8.9, -8.6, -8.4, -8.7, -9.0, -8.7, -8.4,
     -8.7, -9.0, -9.3, -9.6, -9.9, -10.2, -10.6, -11.2, -12.6, -15.4, -16.9, -17.6, -17.6, -17.6, -15.2,
     -15.2, -14.8, -14.0, -13.2, -12.6],
    [-5.8, -5.8, -5.8, -5.7, -6.0, -6.4, -6.8, -7.2, -7.7, -8.4, -9.1, -9.7, -10.3, -10.5, -10.3,
     -10.7, -10.5, -10.3, -10.1, -9.9, -9.6, -9.4, -9.1, -8.9, -8.7, -8.5, -8.3, -8.6, -8.9, -8.7,
     -8.5, -8.2, -8.0, -8.3, -8.6, -8.9, -9.3, -9.0, -8.7, -8.4, -8.2, -8.5, -8.8, -8.5, -8.2,
     -8.5, -8.8, -8.5, -8.2, -8.5, -8.8, -9.0, -9.3, -9.6, -9.2, -8.8, -9.1, -9.4, -9.0, -8.7,
     -8.4, -8.8, -8.5, -8.2, -8.0],
    [-5.7, -5.8, -5.8, -5.7, -6.0, -6.4, -6.8, -7.1, -7.5, -8.2, -8.8, -9.4, -9.9, -10.0, -9.9,
     -10.3, -10.1, -9.8, -9.5, -9.2, -8.9, -8.6, -8.3, -8.1, -7.8, -7.5, -7.2, -7.0, -6.8, -6.5,
     -6.2, -6.0, -6.3, -6.7, -7.2, -7.6, -8.2, -9.0, -9.8, -10.5, -11.0, -11.5, -12.3, -11.8, -11.0,
     -10.4, -11.2, -12.3, -11.6, -11.0, -11.6, -12.4, -13.2, -14.9, -14.9, -13.6, -12.4, -11.6, -10.8, -10.2,
     -9.8, -10.2, -9.8, -9.4, -9.6],
    [-5.6, -5.6, -5.6, -5.5, -5.7, -6.1, -6.4, -6.7, -7.1, -7.7, -8.3, -8.9, -9.4, -9.6, -9.5,
     -9.8, -9.6, -9.4, -9.1, -8.9, -8.7, -8.5, -8.3, -8.1, -7.9, -8.1, -8.3, -8.0, -7.7, -7.5,
     -7.3, -7.5, -7.8, -8.0, -7.7, -7.4, -7.2, -7.0, -6.6, -6.3, -6.1, -6.4, -6.7, -6.4, -6.1,
     -6.3, -6.6, -6.9, -7.2, -7.0, -6.7, -6.9, -7.2, -7.5, -7.3, -7.0, -7.3, -7.6, -7.3, -7.0,
     -6.8, -7.1, -7.4, -7.0, -6.8],
    [-5.8, -5.9, -5.9, -5.8, -6.1, -6.5, -6.9, -7.3, -7.9, -8.6, -9.3, -10.0, -10.7, -11.3, -11.9,
     -12.3, -12.5, -12.3, -11.8, -11.2, -10.6, -10.1, -9.7, -9.4, -9.2, -9.0, -8.8, -8.6, -8.4, -8.2,
     -8.0, -7.8, -7.5, -7.2, -7.0, -6.8, -6.5, -6.2, -5.8, -5.4, -5.2, -5.6, -6.0, -6.4, -6.8,
     -7.2, -7.6, -7.9, -8.3, -8.0, -7.6, -7.3, -7.0, -7.4, -7.8, -8.2, -8.6, -8.3, -8.0, -8.4,
     -8.8, -9.2, -9.6, -10.0, -10.4],
    [-5.7, -5.8, -5.8, -5.7, -6.0, -6.4, -6.8, -7.2, -7.7, -8.4, -9.0, -9.7, -10.4, -11.0, -11.6,
     -12.2, -12.6, -12.9, -12.4, -11.6, -11.0, -10.5, -10.2, -10.0, -10.3, -10.6, -10.3, -10.0, -9.8, -9.6,
     -9.8, -10.1, -9.8, -9.5, -9.3, -9.1, -9.4, -9.7, -9.3, -9.0, -8.8, -9.1, -9.4, -9.1, -8.8,
     -8.6, -8.9, -9.2, -9.5, -9.3, -9.0, -9.3, -9.6, -10.0, -10.4, -10.8, -11.4, -11.8, -11.4, -11.0,
     -10.6, -10.9, -10.5, -10.2, -10.6],
    [-5.7, -5.7, -5.8, -5.7, -6.0, -6.4, -6.7, -7.1, -7.6, -8.2, -8.8, -9.4, -10.0, -10.1, -10.0,
     -10.4, -10.2, -10.0, -9.7, -9.5, -9.3, -9.1, -8.9, -9.1, -9.4, -9.6, -9.4, -9.1, -8.9, -8.7,
     -8.5, -8.3, -8.5, -8.7, -8.4, -8.1, -7.8, -7.5, -7.1, -6.8, -6.6, -6.3, -6.0, -6.4, -6.8,
     -7.0, -6.7, -6.4, -6.7, -7.1, -7.4, -7.1, -6.8, -7.2, -7.5, -7.1, -6.8, -6.5, -6.2, -6.5,
     -6.8, -7.1, -6.8, -6.5, -6.7],
    [-5.6, -5.7, -5.7, -5.6, -5.9, -6.2, -6.6, -6.9, -7.3, -8.0, -8.6, -9.2, -9.8, -9.9, -9.8,
     -10.1, -9.9, -9.6, -9.3, -9.0, -8.8, -8.6, -8.3, -8.0, -7.7, -7.5, -7.3, -7.1, -6.9, -6.7,
     -6.5, -6.3, -6.2, -6.2, -6.4, -6.7, -7.0, -7.3, -7.0, -6.7, -6.5, -6.8, -7.1, -6.8, -6.5,
     -6.8, -7.1, -7.4, -7.1, -6.8, -6.5, -6.8, -7.1, -7.4, -7.1, -6.6, -6.2, -5.6, -5.0, -4.3,
     -3.9, -4.5, -5.2, -5.8, -6.2],
    [-5.7, -5.8, -5.8, -5.8, -6.0, -6.4, -6.8, -7.2, -7.7, -8.3, -8.9, -9.5, -10.1, -10.3, -10.2,
     -10.6, -10.4, -10.2, -9.9, -9.7, -9.5, -9.2, -9.0, -8.8, -8.5, -8.3, -8.1, -7.9, -7.6, -7.3,
     -7.6, -7.9, -8.2, -8.0, -7.7, -7.5, -7.2, -7.5, -7.8, -7.5, -7.2, -7.5, -7.8, -8.1, -8.4,
     -8.1, -7.8, -7.5, -7.2, -7.0, -7.3, -7.6, -7.9, -8.2, -7.9, -7.6, -7.3, -7.0, -7.4, -7.8,
     -7.5, -7.2, -6.9, -7.2, -7.5],
    [-5.8, -5.8, -5.9, -5.8, -6.1, -6.5, -6.9, -7.3, -7.8, -8.5, -9.1, -9.7, -10.3, -10.5, -10.4,
     -10.8, -10.6, -10.4, -10.1, -9.9, -9.7, -9.5, -9.3, -9.1, -9.3, -9.5, -9.7, -9.5, -9.3, -9.5,
     -9.7, -9.9, -9.6, -9.3, -9.5, -9.7, -9.4, -9.1, -8.8, -8.5, -8.7, -9.0, -9.3, -9.6, -9.3,
     -9.0, -9.3, -9.6, -9.9, -10.2, -10.5, -10.2, -9.9, -10.3, -10.7, -11.0, -11.4, -11.0, -10.6, -11.0,
     -11.4, -11.8, -12.2, -11.8, -11.4],
    [-5.8, -5.9, -6.0, -5.9, -6.1, -6.5, -6.9, -7.3, -7.8, -8.5, -9.2, -9.8, -10.4, -10.7, -11.2,
     -11.8, -12.5, -13.0, -13.7, -13.3, -12.1, -11.4, -10.8, -10.4, -10.1, -9.9, -9.6, -9.4, -9.6, -9.8,
     -9.5, -9.2, -9.0, -8.8, -8.6, -8.4, -8.2, -8.0, -7.8, -7.6, -7.4, -7.2, -7.0, -6.8, -7.0,
     -7.3, -7.6, -7.4, -7.1, -6.8, -6.5, -6.8, -7.1, -7.4, -7.7, -8.0, -8.3, -8.0, -7.7, -7.4,
     -7.1, -7.4, -7.7, -7.4, -7.1],
    [-5.7, -5.8, -5.8, -5.7, -6.0, -6.4, -6.8, -7.1, -7.6, -8.2, -8.8, -9.4, -9.9, -10.1, -10.2,
     -10.6, -10.5, -10.3, -10.1, -10.3, -10.5, -10.3, -10.0, -9.8, -10.0, -10.2, -10.0, -9.8, -9.6, -9.8,
     -10.0, -9.8, -9.6, -9.9, -10.2, -10.5, -11.0, -11.8, -11.0, -10.4, -10.0, -9.7, -9.4, -9.1, -9.3,
     -9.5, -9.2, -8.9, -8.6, -8.9, -9.2, -9.5, -9.8, -10.1, -9.8, -9.5, -9.8, -10.1, -10.4, -10.7,
     -11.0, -10.6, -10.2, -10.0, -9.6],
    [-5.7, -5.8, -5.8, -5.7, -5.9, -6.3, -6.7, -7.1, -7.6, -8.2, -8.8, -9.4, -9.9, -10.1, -10.0,
     -10.4, -10.2, -10.0, -9.7, -9.5, -9.3, -9.1, -8.9, -8.7, -8.5, -8.7, -8.9, -8.7, -8.5, -8.3,
     -8.1, -8.3, -8.5, -8.3, -8.1, -7.9, -7.7, -7.5, -7.3, -7.1, -6.9, -7.1, -7.3, -7.1, -6.9,
     -6.7, -6.2, -5.6, -5.0, -4.4, -3.9, -4.0, -4.1, -4.2, -4.4, -4.9, -5.0, -5.2, -5.4, -5.6,
     -5.5, -5.4, -5.3, -5.3, -5.3],
    [-5.7, -5.7, -5.8, -5.7, -5.9, -6.3, -6.7, -7.1, -7.6, -8.3, -8.9, -9.5, -10.1, -10.4, -10.7,
     -11.2, -11.6, -11.9, -11.6, -11.2, -10.8, -10.5, -10.2, -9.9, -9.6, -9.3, -9.0, -8.7, -8.4, -8.1,
     -7.8, -7.5, -7.2, -6.9, -6.6, -6.3, -6.0, -5.7, -5.6, -5.5, -5.4, -5.3, -5.3, -5.3, -3.0,
     -3.0, -2.7, -3.5, -4.5, -5.2, -5.6, -6.0, -6.3, -6.6, -6.3, -6.0, -6.3, -6.6, -6.9, -6.6,
     -6.3, -6.6, -6.9, -7.2, -7.5],
]

# ---- Precipitations (mm), pas 6h a 384h ----
precip_mean = [0, 0, 0, 0, 0, 0, 0, 0, 0, 0, 0, 0, 0, 0.1, 0.1, 0, 0, 0, 0, 0,
               0, 0, 0, 0, 0, 0, 0, 0, 0.1, 0.2, 0.1, 0, 0, 0, 0, 0, 0, 0.1, 0.2, 0.2,
               0.2, 0.3, 0.1, 0, 0, 0.1, 0.2, 0.1, 0.1, 0.2, 0.1, 0, 0, 0.1, 0.1, 0.1, 0, 0, 0.1, 0.2,
               0.2, 0.2, 0.1, 0]
precip_control = [0, 0, 0, 0, 0, 0, 0, 0, 0, 0, 0, 0, 0, 0, 0.2, 0, 0, 0, 0, 0,
                  0, 0, 0, 0, 0, 0, 0, 0, 0, 0.1, 0, 0, 0, 0, 0, 0, 0, 0, 0, 0,
                  0, 0, 0, 0, 0, 0, 0, 0, 0, 0, 0, 0, 0, 0, 0, 0, 0, 0, 0, 0,
                  0, 0, 0, 0]
precip_gfs = [0, 0, 0, 0, 0, 0, 0, 0, 0, 0, 0, 0, 0, 0, 0, 0, 0, 0, 0, 0,
              0, 0, 0, 0, 0, 0, 0, 0, 0, 0, 0, 0, 0, 0, 0, 0, 0, 0, 0, 0,
              0, 0, 0, 0, 0, 0.3, 0.7, 0.6, 0.3, 0, 0, 0, 0, 0, 0, 0, 0, 0, 0, 0,
              0, 0, 0, 0]
# (membre, echeance /6h, mm) ; toutes les autres valeurs a 0
precip_events = [(1, 14, 0.4), (1, 15, 0.8), (10, 14, 0.6), (10, 15, 1.0), (27, 15, 0.9), (28, 15, 0.5),
                 (22, 28, 0.3), (22, 29, 1.0), (22, 30, 2.3), (22, 31, 1.3), (22, 32, 0.9),
                 (9, 34, 0.9), (27, 36, 0.3), (13, 38, 0.5), (9, 38, 0.4), (9, 39, 2.1), (9, 40, 0.5),
                 (18, 39, 0.7), (18, 40, 1.1), (18, 41, 1.3), (18, 42, 1.0), (18, 43, 0.5),
                 (4, 40, 0.6), (4, 41, 0.9), (19, 41, 0.5), (19, 42, 3.5), (19, 43, 0.3),
                 (28, 41, 0.3), (28, 42, 2.6), (28, 43, 0.8),
                 (25, 45, 0.6), (25, 46, 0.9), (25, 47, 1.3), (25, 48, 0.3),
                 (5, 49, 0.9), (5, 50, 2.3), (5, 51, 0.9), (20, 49, 0.5), (20, 50, 1.8), (20, 51, 0.6),
                 (14, 50, 0.3), (15, 53, 0.4), (15, 54, 1.0), (15, 55, 0.6),
                 (22, 54, 0.5), (22, 55, 1.6), (22, 56, 0.7), (24, 55, 0.7),
                 (18, 59, 0.6), (18, 60, 1.0), (18, 61, 0.8), (10, 60, 0.8), (10, 61, 1.9), (10, 62, 0.5),
                 (14, 61, 0.5), (14, 62, 2.5), (14, 63, 0.3), (12, 62, 0.4)]

precip_perts = np.zeros((30, 64))
for m, step, mm in precip_events:
    precip_perts[m - 1, step - 1] = mm

# ---------------- figure ----------------
W, H = 740, 700
fig = plt.figure(figsize=(W / 100, H / 100), dpi=100)
fig.patch.set_facecolor('white')
ax = fig.add_axes([50 / W, 101 / H, 640 / W, 599 / H])
ax.set_xlim(0, 384)
ax.set_ylim(-52.43, 33.14)
ax2 = ax.twinx()
ax2.set_ylim(-7.43, 78.14)

grid_c = '#c4c4c4'
for v in range(-45, 31, 5):
    if v == 0:
        ax.axhline(v, color='#8c8c8c', lw=1.8, zorder=0)
    else:
        ax.axhline(v, color=grid_c, lw=1.5 if v % 10 == 0 else 0.72, zorder=0)
for h in range(0, 385, 24):
    ax.axvline(h, color=grid_c, lw=0.72, zorder=0, clip_on=False)

mk = dict(marker='+', ms=3, mew=0.7)
for k in range(30):
    c = pert_colors[k]
    ax.plot(hours, t850_perts[k], color=c, lw=0.75, zorder=2, **mk)
    ax.plot(hours, t500_perts[k], color=c, lw=0.75, zorder=2, **mk)
    ax2.plot(hours[1:], precip_perts[k], color=c, lw=0.75, zorder=2, **mk)

for ser in (t850_gfs, t500_gfs):
    ax.plot(hours, ser, color='black', lw=2.2, zorder=3)
for ser in (t850_control, t500_control):
    ax.plot(hours, ser, color='#0000ff', lw=2.2, zorder=4)
for ser in (t850_mean, t500_mean):
    ax.plot(hours, ser, color='#ff0000', lw=3.6, zorder=5)
ax2.plot(hours[1:], precip_gfs, color='black', lw=2.2, zorder=3)
ax2.plot(hours[1:], precip_control, color='#0000ff', lw=2.2, zorder=4)
ax2.plot(hours[1:], precip_mean, color='#ff0000', lw=3.6, zorder=5)

for a in (ax, ax2):
    for s in a.spines.values():
        s.set_visible(False)
ax.spines['bottom'].set_visible(True)
ax.spines['bottom'].set_color('black')
ax.spines['bottom'].set_linewidth(1.5)

ax.set_xticks([])
ax.set_yticks(range(-45, 31, 5))
ax.tick_params(axis='y', length=0, pad=21.6, labelsize=7.2)
for t in ax.get_yticklabels():
    t.set_horizontalalignment('left')
ax2.set_yticks(range(0, 76, 5))
ax2.tick_params(axis='y', length=0, pad=14.4, labelsize=7.2)

# dates sous l'axe
tr = offset_copy(ax.get_xaxis_transform(), fig=fig, x=7.5, y=-3, units='dots')
for k, d in enumerate(days):
    ax.text(24 * k, 0, d, rotation=90, ha='center', va='top', fontsize=6.9,
            transform=tr, clip_on=False)

# calque en pixels pour les textes et la legende
ov = fig.add_axes([0, 0, 1, 1])
ov.set_xlim(0, W)
ov.set_ylim(H, 0)
ov.axis('off')

fs = 7.2
ov.text(60, 50, 'Temp. 850hPa', fontsize=fs, va='center')
ov.text(60, 261, 'Temp. 500hPa', fontsize=fs, va='center')
ov.text(60, 537, 'Précipitations', fontsize=fs, va='center')
ov.text(20, 607, '(°c)', fontsize=fs, va='center')
ov.text(10, 623, 'Alt. 162m', fontsize=fs, va='center')
ov.text(710, 607, '(mm)', fontsize=fs, va='center')

ov.plot([35, 65], [637, 637], color='#ff0000', lw=3.6, solid_capstyle='butt')
ov.text(75, 637, 'Moyenne des scénarios', fontsize=fs, va='center')
ov.plot([225, 255], [637, 637], color='#0000ff', lw=2.5, solid_capstyle='butt')
ov.text(265, 636, 'Run de contrôle', fontsize=fs, va='center')
ov.plot([225, 255], [647, 647], color='black', lw=2.5, solid_capstyle='butt')
ov.text(265, 646, 'Run GFS', fontsize=fs, va='center')
ov.text(60, 658, '❄', fontsize=9, color='#79b4e8', ha='center', va='center', family='DejaVu Sans')
ov.text(75, 659, 'Risque neige', fontsize=fs, va='center')
ov.text(340, 652, '30 Perts.', fontsize=fs, va='center')
for k in range(30):
    ov.add_patch(patches.Rectangle((400 + 11.05 * k, 650), 10, 6, fc=pert_colors[k], ec='none'))
    ov.text(405 + 11.05 * k, 644, '%02d' % (k + 1), fontsize=5.6, ha='center', va='center')

ov.add_patch(patches.Rectangle((20, 667), 420, 32, fill=False, ec='black', lw=1.2))
ov.text(30, 677, 'Diagramme des ensembles GEFS sur 384h : 40.6N 22.9E', fontsize=8.2,
        fontweight='bold', va='center')
ov.text(30, 692, 'Températures 850hPa et 500hPa (°C) , précipitations (mm)', fontsize=7.0,
        va='center')
ov.text(450, 672, 'Ensemble GEFS du 11/08/2026 - 00Z', fontsize=fs, va='center')
ov.text(450, 692, 'Copyright 2026 Meteociel.fr', fontsize=8.3, fontweight='bold', va='center')

fig.savefig('out.png', dpi=100)
